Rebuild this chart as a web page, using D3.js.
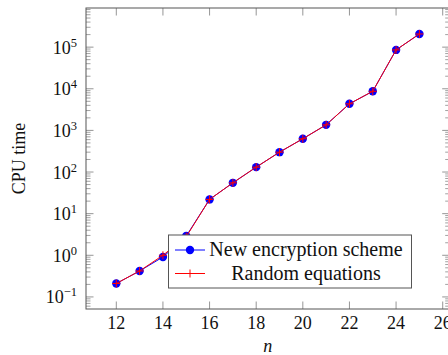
<!DOCTYPE html>
<html>
<head>
<meta charset="utf-8">
<script src="https://cdn.jsdelivr.net/npm/d3@7"></script>
<style>
  body { margin: 0; background: #fff; }
  svg text { font-family: "Liberation Serif", "Times New Roman", serif; }
</style>
</head>
<body>
<div id="chart"></div>
<script>
// data
var nValues = [12, 13, 14, 15, 16, 17, 18, 19, 20, 21, 22, 23, 24, 25];
var newScheme = [0.21, 0.42, 0.91, 2.9, 22, 55, 131, 300, 630, 1360, 4350, 8700, 85700, 207000];
var randomEq = [0.21, 0.42, 1.0, 2.8, 22, 55, 131, 300, 630, 1360, 4350, 8700, 85700, 207000];
var xTicks = [12, 14, 16, 18, 20, 22, 24, 26];
var yDecades = [-1, 0, 1, 2, 3, 4, 5];
var seriesNames = ["New encryption scheme", "Random equations"];

var W = 448, H = 355;
var pL = 86, pR = 449.7, pT = 8, pB = 309;

var svg = d3.select("#chart").append("svg").attr("width", W).attr("height", H);

var x = d3.scaleLinear().domain([10.7, 26.3]).range([pL, pR]);
var y = d3.scaleLog().domain([Math.pow(10, -1.29), Math.pow(10, 5.94)]).range([pB, pT]);

var tickCol = "#8a8a8a", frameCol = "#555";

// minor y ticks
var minor = [];
for (var d = -2; d <= 5; d++)
    for (var m = 2; m <= 9; m++) {
        var v = m * Math.pow(10, d);
        if (v > y.domain()[0] && v < y.domain()[1]) minor.push(v);
    }

var g = svg.append("g");
minor.forEach(function (v) {
    g.append("line").attr("x1", pL).attr("x2", pL + 4.5)
        .attr("y1", y(v)).attr("y2", y(v)).attr("stroke", tickCol).attr("stroke-width", 0.8);
    g.append("line").attr("x1", pR).attr("x2", pR - 4.5)
        .attr("y1", y(v)).attr("y2", y(v)).attr("stroke", tickCol).attr("stroke-width", 0.8);
});
yDecades.forEach(function (e) {
    var yy = y(Math.pow(10, e));
    g.append("line").attr("x1", pL).attr("x2", pL + 7.5)
        .attr("y1", yy).attr("y2", yy).attr("stroke", tickCol).attr("stroke-width", 0.9);
    g.append("line").attr("x1", pR).attr("x2", pR - 7.5)
        .attr("y1", yy).attr("y2", yy).attr("stroke", tickCol).attr("stroke-width", 0.9);
    var t = g.append("text").attr("x", 77).attr("y", yy + 6.5)
        .attr("text-anchor", "end").attr("font-size", 18).attr("fill", "#111");
    t.append("tspan").text("10");
    t.append("tspan").attr("dy", -7).attr("font-size", 12.5).text(e < 0 ? "\u2212" + (-e) : e);
});
xTicks.forEach(function (v) {
    var xx = x(v);
    g.append("line").attr("x1", xx).attr("x2", xx)
        .attr("y1", pB).attr("y2", pB - 7.5).attr("stroke", tickCol).attr("stroke-width", 0.9);
    g.append("line").attr("x1", xx).attr("x2", xx)
        .attr("y1", pT).attr("y2", pT + 7.5).attr("stroke", tickCol).attr("stroke-width", 0.9);
    g.append("text").attr("x", xx).attr("y", 329)
        .attr("text-anchor", "middle").attr("font-size", 18).attr("fill", "#111").text(v);
});

// frame
svg.append("rect").attr("x", pL).attr("y", pT)
    .attr("width", pR - pL).attr("height", pB - pT)
    .attr("fill", "none").attr("stroke", frameCol).attr("stroke-width", 1);

// axis labels
svg.append("text").attr("x", (pL + pR) / 2).attr("y", 351.5)
    .attr("text-anchor", "middle").attr("font-size", 18).attr("font-style", "italic")
    .attr("fill", "#111").text("n");
svg.append("text").attr("transform", "translate(25," + ((pT + pB) / 2) + ") rotate(-90)")
    .attr("text-anchor", "middle").attr("font-size", 18).attr("fill", "#111").text("CPU time");

var line = d3.line().x(function (d) { return x(d[0]); }).y(function (d) { return y(d[1]); });
var blueData = nValues.map(function (n, i) { return [n, newScheme[i]]; });
var redData = nValues.map(function (n, i) { return [n, randomEq[i]]; });

svg.append("path").datum(blueData).attr("d", line)
    .attr("fill", "none").attr("stroke", "#0000ff").attr("stroke-width", 1);
svg.selectAll("circle.pt").data(blueData).enter().append("circle")
    .attr("cx", function (d) { return x(d[0]); }).attr("cy", function (d) { return y(d[1]); })
    .attr("r", 4.2).attr("fill", "#0000ff");

svg.append("path").datum(redData).attr("d", line)
    .attr("fill", "none").attr("stroke", "#ff0000").attr("stroke-width", 1);
function plus(sel, cx, cy) {
    sel.append("path").attr("d", "M" + (cx - 4) + "," + cy + "H" + (cx + 4) + "M" + cx + "," + (cy - 4) + "V" + (cy + 4))
        .attr("stroke", "#ff0000").attr("stroke-width", 1).attr("fill", "none");
}
redData.forEach(function (d) { plus(svg, x(d[0]), y(d[1])); });

// legend
var lg = svg.append("g");
lg.append("rect").attr("x", 168.5).attr("y", 235).attr("width", 243).attr("height", 53)
    .attr("fill", "#fff").attr("stroke", frameCol).attr("stroke-width", 1);
lg.append("line").attr("x1", 175).attr("x2", 205).attr("y1", 250).attr("y2", 250)
    .attr("stroke", "#0000ff").attr("stroke-width", 1);
lg.append("circle").attr("cx", 190).attr("cy", 250).attr("r", 4.2).attr("fill", "#0000ff");
lg.append("line").attr("x1", 175).attr("x2", 205).attr("y1", 273.5).attr("y2", 273.5)
    .attr("stroke", "#ff0000").attr("stroke-width", 1);
plus(lg, 190, 273.5);
lg.append("text").attr("x", 306).attr("y", 256).attr("text-anchor", "middle")
    .attr("font-size", 20).attr("fill", "#111").text(seriesNames[0]);
lg.append("text").attr("x", 306).attr("y", 279.5).attr("text-anchor", "middle")
    .attr("font-size", 20).attr("fill", "#111").text(seriesNames[1]);
</script>
</body>
</html>
